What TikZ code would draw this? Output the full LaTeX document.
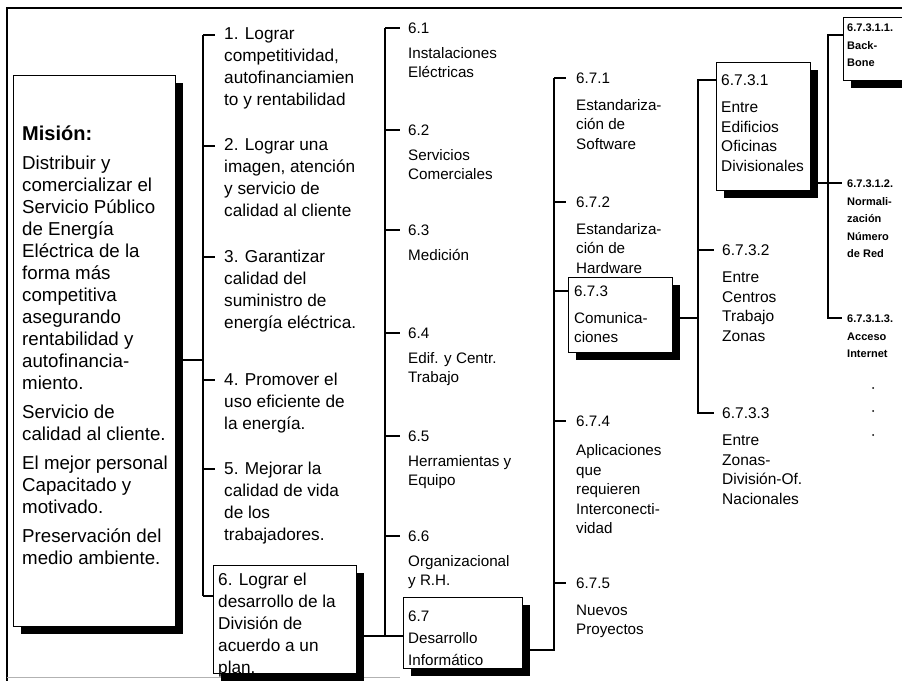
\documentclass[tikz,border=0pt]{standalone}
\usepackage{fontspec}
\setmainfont{Liberation Sans}
\usetikzlibrary{shadows}

% Tamaños de letra por columna
\newcommand{\fmis}{\fontsize{18.7}{22}\selectfont}
\newcommand{\fobj}{\fontsize{17.2}{22}\selectfont}
\newcommand{\fsub}{\fontsize{15.2}{19.5}\selectfont}
\newcommand{\fcom}{\fontsize{15.5}{19.5}\selectfont}
\newcommand{\fred}{\fontsize{11}{17.5}\selectfont\bfseries}

\tikzset{
  caja/.style={draw, thin, fill=white, anchor=north west, inner sep=0pt,
    drop shadow={shadow xshift=8pt, shadow yshift=-8pt, fill=black, opacity=1}},
  texto/.style={anchor=north west, align=left, inner ysep=0pt, inner xsep=#1,
    execute at begin node=\strut},
  texto/.default=4pt,
  tmis/.style={font=\fmis, yshift=12.4pt},
  tobj/.style={font=\fobj, yshift=12.4pt},
  tsub/.style={font=\fsub, yshift=10.65pt},
  tcom/.style={font=\fcom, yshift=10.65pt},
  tred/.style={font=\fred, yshift=7pt},
  rama/.style={line width=2pt},
}

\begin{document}
\begin{tikzpicture}[x=1pt,y=-1pt]
\useasboundingbox (0,0) rectangle (902,681);
% Marco exterior
\draw[line width=1.5pt] (902,8) -- (7,8) -- (7,681);
\draw[gray!60, line width=1pt] (7,677) -- (400,677);

% Misión
\node[caja, minimum width=162pt, minimum height=551pt] (mision) at (13,75) {};
\node[texto=0pt, font=\fontsize{20}{24}\selectfont\bfseries, yshift=14pt] (titulo) at (22,137) {Misión:};
\node[texto=0pt, tmis] (lema) at (22,168) {Distribuir y\\comercializar el\\Servicio Público\\de Energía\\Eléctrica de la\\forma más\\competitiva\\asegurando\\rentabilidad y\\autofinancia-\\miento.\\[7pt]Servicio de\\calidad al cliente.\\[7pt]El mejor personal\\Capacitado y\\motivado.\\[7pt]Preservación del\\medio ambiente.};

% Objetivos
\node[texto=9pt, tobj] (o1) at (215,40) {1. Lograr\\competitividad,\\autofinanciamien\\to y rentabilidad};
\node[texto=9pt, tobj] (o2) at (215,151) {2. Lograr una\\imagen, atención\\y servicio de\\calidad al cliente};
\node[texto=9pt, tobj] (o3) at (215,262) {3. Garantizar\\calidad del\\suministro de\\energía eléctrica.};
\node[texto=9pt, tobj] (o4) at (215,385) {4. Promover el\\uso eficiente de\\la energía.};
\node[texto=9pt, tobj] (o5) at (215,474) {5. Mejorar la\\calidad de vida\\de los\\trabajadores.};
\node[caja, minimum width=143pt, minimum height=108pt] (obj6) at (213,565) {};
\node[texto, tobj] (o6) at (214,585) {6. Lograr el\\desarrollo de la\\División de\\acuerdo a un\\plan.};

\draw[rama] (mision.east |- 0,360) -- (203,360);
\draw[rama] (203,35) -- (203,596);
\foreach \n/\y in {o1/35, o2/146, o3/257, o4/380, o5/469}
  \draw[rama] (203,\y) -- (\n.west |- 0,\y);
\draw[rama] (203,596) -- (obj6.west |- 0,596);

% Subprogramas 6.x
\node[texto=8pt, tsub] (s1) at (400,33) {6.1\\[5.5pt]Instalaciones\\Eléctricas};
\node[texto=8pt, tsub] (s2) at (400,135) {6.2\\[5.5pt]Servicios\\Comerciales};
\node[texto=8pt, tsub] (s3) at (400,235) {6.3\\[5.5pt]Medición};
\node[texto=8pt, tsub] (s4) at (400,338) {6.4\\[5.5pt]Edif. y Centr.\\Trabajo};
\node[texto=8pt, tsub] (s5) at (400,441) {6.5\\[5.5pt]Herramientas y\\Equipo};
\node[texto=8pt, tsub] (s6) at (400,541) {6.6\\[5.5pt]Organizacional\\y R.H.};
\node[caja, minimum width=119pt, minimum height=71pt] (b67) at (403,597) {};
\node[texto, tsub] (s7) at (404,621) {6.7\\[2.5pt]Desarrollo\\[2.5pt]Informático};

\draw[rama] (385,28) -- (385,636);
\foreach \n/\y in {s1/28, s2/130, s3/230, s4/333, s5/436, s6/536}
  \draw[rama] (385,\y) -- (\n.west |- 0,\y);
\draw[rama] (obj6.east |- 0,636) -- (b67.west |- 0,636);

% Desarrollo informático 6.7.x
\node[texto=10pt, tsub] (d1) at (566,83) {6.7.1\\[7.5pt]Estandariza-\\ción de\\Software};
\node[texto=10pt, tsub] (d2) at (566,207) {6.7.2\\[7.5pt]Estandariza-\\ción de\\Hardware};
\node[caja, minimum width=104pt, minimum height=75pt] (b673) at (568,277) {};
\node[texto, tsub] (d3) at (570,296) {6.7.3\\[7.5pt]Comunica-\\ciones};
\node[texto=10pt, tsub] (d4) at (566,426) {6.7.4\\[10pt]Aplicaciones\\que\\requieren\\Interconecti-\\vidad};
\node[texto=10pt, tsub] (d5) at (566,588) {6.7.5\\[7.5pt]Nuevos\\Proyectos};

\draw[rama] (b67.east |- 0,650) -- (554,650) -- (554,78);
\foreach \n/\y in {d1/78, d2/202, d4/421, d5/583}
  \draw[rama] (554,\y) -- (\n.west |- 0,\y);
\draw[rama] (554,291) -- (b673.west |- 0,291);

% Comunicaciones 6.7.3.x
\node[caja, minimum width=94pt, minimum height=128pt] (b6731) at (716,62) {};
\node[texto, tcom] (c1) at (717,85) {6.7.3.1\\[8pt]Entre\\Edificios\\Oficinas\\Divisionales};
\node[texto=8pt, tcom] (c2) at (714,255) {6.7.3.2\\[8pt]Entre\\Centros\\Trabajo\\Zonas};
\node[texto=8pt, tcom] (c3) at (714,418) {6.7.3.3\\[8pt]Entre\\Zonas-\\División-Of.\\Nacionales};

\draw[rama] (b673.east |- 0,318) -- (698,318);
\draw[rama] (b6731.west |- 0,80) -- (698,80) -- (698,413) -- (c3.west |- 0,413);
\draw[rama] (698,250) -- (c2.west |- 0,250);

% Red 6.7.3.1.x
\node[caja, minimum width=70pt, minimum height=63pt] (b67311) at (843,17) {};
\node[texto, tred] (r1) at (843,31) {6.7.3.1.1.\\Back-\\Bone};
\node[texto=5pt, tred] (r2) at (842,187) {6.7.3.1.2.\\Normali-\\zación\\Número\\de Red};
\node[texto=5pt, tred] (r3) at (842,322) {6.7.3.1.3.\\Acceso\\Internet};

\draw[rama] (b6731.east |- 0,183) -- (r2.west |- 0,183);
\draw[rama] (b67311.west |- 0,35) -- (828,35) -- (828,318) -- (r3.west |- 0,318);

% Puntos suspensivos
\foreach \y in {388, 411, 435}
  \fill (873,\y) circle (1pt);
\end{tikzpicture}
\end{document}
